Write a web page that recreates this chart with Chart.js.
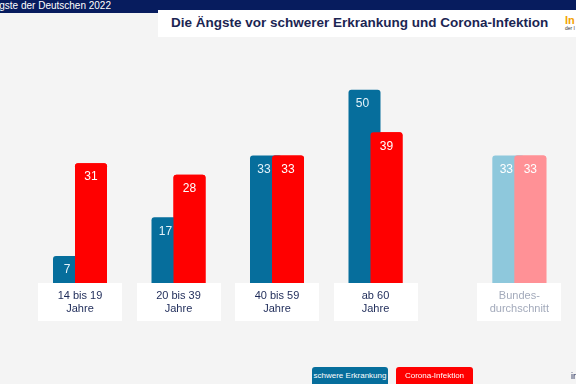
<!DOCTYPE html>
<html><head><meta charset="utf-8">
<script src="https://cdn.jsdelivr.net/npm/chart.js@4.4.1/dist/chart.umd.min.js"></script>
<style>
html,body{margin:0;padding:0;background:#f4f4f4;width:576px;height:384px;overflow:hidden;font-family:"Liberation Sans",Arial,sans-serif;}
#c{position:absolute;left:0;top:0;}
#hdr{position:absolute;left:0;top:0;width:576px;height:13px;background:#071c5e;}
#hdrtxt{position:absolute;left:0;top:0;width:111px;height:13px;display:flex;justify-content:flex-end;overflow:hidden;color:#fff;font-size:10px;line-height:12px;white-space:nowrap;}
#titlebox{position:absolute;left:158px;top:10px;width:418px;height:27px;background:#fff;}
#title{position:absolute;left:171px;top:15px;font-weight:bold;font-size:13.5px;line-height:16px;color:#1b2552;white-space:nowrap;}
#logo{position:absolute;left:565px;top:14px;font-weight:bold;font-size:11px;line-height:12px;color:#f3a200;white-space:nowrap;}
#logosub{position:absolute;left:565px;top:26px;font-size:5px;line-height:5px;color:#333;white-space:nowrap;}
.leg{position:absolute;top:367px;height:24px;border-radius:3px;color:#fff;font-size:8px;line-height:17px;text-align:center;white-space:nowrap;}
#src{position:absolute;left:571px;top:370px;font-size:9px;line-height:12px;color:#1b2552;white-space:nowrap;}
</style></head>
<body>
<canvas id="c" width="576" height="384"></canvas>
<div id="hdr"><div id="hdrtxt"><span>Die Ängste der Deutschen 2022</span></div></div>
<div id="titlebox"></div>
<div id="title">Die Ängste vor schwerer Erkrankung und Corona-Infektion</div>
<div id="logo">In</div>
<div id="logosub">der I</div>
<div class="leg" style="left:312px;width:76px;background:#066e9c;">schwere Erkrankung</div>
<div class="leg" style="left:396px;width:77px;background:#ff0000;">Corona-Infektion</div>
<div id="src">in</div>
<script>
const categories = [['14 bis 19','Jahre'], ['20 bis 39','Jahre'], ['40 bis 59','Jahre'], ['ab 60','Jahre'], ['Bundes-','durchschnitt']];
const slots = [0, 1, 2, 3, 4.46];
const schwereErkrankung = [7, 17, 33, 50, 33];
const coronaInfektion = [31, 28, 33, 39, 33];
const seriesNames = ['schwere Erkrankung', 'Corona-Infektion'];

const blueCols = ['#066e9c','#066e9c','#066e9c','#066e9c','#8ec8dc'];
const redCols = ['#ff0000','#ff0000','#ff0000','#ff0000','#ff9196'];

const deco = {
  id: 'deco',
  beforeDraw(chart) {
    const {ctx, chartArea} = chart;
    const x = chart.scales.x;
    ctx.save();
    ctx.fillStyle = '#ffffff';
    slots.forEach(v => {
      const px = x.getPixelForValue(v);
      ctx.fillRect(Math.round(px - 42), chartArea.bottom, 84, 38);
    });
    ctx.restore();
  },
  afterDatasetsDraw(chart) {
    const ctx = chart.ctx;
    chart.getDatasetMeta(1).controller.draw();
    ctx.save();
    ctx.font = '12px "Liberation Sans", Arial, sans-serif';
    ctx.textAlign = 'center';
    ctx.textBaseline = 'middle';
    [0, 1].forEach(di => {
      const meta = chart.getDatasetMeta(di);
      meta.data.forEach((el, i) => {
        const v = chart.data.datasets[di].data[i].y;
        ctx.fillStyle = (di === 0 && i < 4) ? '#e4f2f9' : '#ffffff';
        ctx.fillText(String(v), el.x + (di === 0 ? -2 : 0), el.y + 14);
      });
    });
    ctx.restore();
  }
};

const pxPerUnit = 98.5;
const xmin = -80 / pxPerUnit;

new Chart(document.getElementById('c'), {
  type: 'bar',
  data: {
    datasets: [
      { label: seriesNames[0], data: slots.map((s, i) => ({x: s, y: schwereErkrankung[i]})),
        backgroundColor: blueCols, borderRadius: 3, borderSkipped: 'start',
        categoryPercentage: 44 / 98.5, barPercentage: 32 / 22 },
      { label: seriesNames[1], data: slots.map((s, i) => ({x: s, y: coronaInfektion[i]})),
        backgroundColor: redCols, borderRadius: 3, borderSkipped: 'start',
        categoryPercentage: 44 / 98.5, barPercentage: 32 / 22 }
    ]
  },
  options: {
    responsive: false,
    animation: false,
    devicePixelRatio: 1,
    layout: { padding: { top: 51, bottom: 61, left: 0, right: 0 } },
    plugins: { legend: { display: false }, title: { display: false }, tooltip: { enabled: false } },
    scales: {
      x: {
        type: 'linear',
        offset: false,
        min: xmin,
        max: xmin + 576 / pxPerUnit,
        grid: { display: false, drawTicks: false, offset: false },
        border: { display: false },
        afterBuildTicks: s => { s.ticks = slots.map(v => ({ value: v })); },
        afterFit: s => { s.height = 40; },
        ticks: {
          autoSkip: false, maxRotation: 0, minRotation: 0, padding: 7,
          font: { family: '"Liberation Sans", Arial, sans-serif', size: 11, lineHeight: 1.15 },
          color: ctx => ctx.index === 4 ? '#a3aabb' : '#1d2a58',
          callback: (v, i) => categories[i]
        }
      },
      y: { display: false, min: 0, max: 60 }
    }
  },
  plugins: [deco]
});
</script>
</body></html>
